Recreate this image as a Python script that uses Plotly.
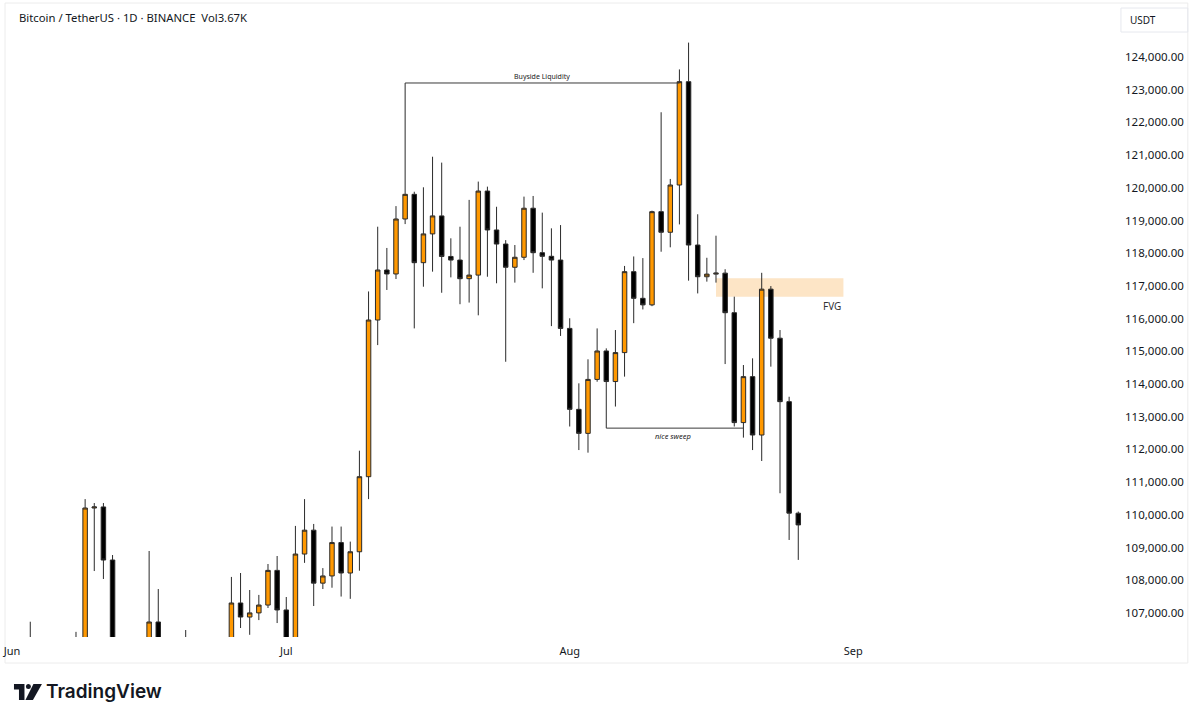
import plotly.graph_objects as go
import pandas as pd

# ---------------- data (BTC/USDT daily) ----------------
start_date = "2025-06-01"
opens = [104600, 105650, 105800, 105400, 104700, 101500, 104300, 105600, 105700, 110208,
         110240, 108617, 105671, 106060, 105420, 105500, 106722, 104550, 104880, 104650,
         103300, 102120, 100960, 105330, 106080, 107303, 106874, 107000, 107240, 108300,
         107090, 105700, 108800, 109530, 107910, 108130, 109150, 108220, 108870, 111165,
         115957, 117486, 117365, 119046, 119800, 117710, 118590, 119140, 117900, 117790,
         117220, 117330, 119900, 118710, 118280, 117570, 117875, 119375, 118015, 117905,
         117790, 115700, 113225, 112490, 114140, 115010, 114075, 114960, 117435, 116620,
         116420, 119270, 118640, 120085, 123245, 118250, 117280, 117360, 117390, 116180,
         112820, 114225, 112440, 116900, 115400, 113460, 110050]
highs = [105900, 105950, 106730, 105950, 105100, 105000, 105900, 106420, 110480, 110360,
         110360, 108770, 106180, 106200, 106130, 108893, 107730, 105550, 105250, 106477,
         103980, 103400, 106000, 106150, 108100, 108220, 107700, 107550, 108495, 108740,
         107486, 109660, 110480, 109720, 108370, 109640, 109640, 109180, 111960, 116830,
         118810, 118160, 119440, 123205, 119880, 120015, 120950, 120770, 118455, 118810,
         119630, 120190, 120035, 119420, 118400, 118250, 119730, 119750, 119240, 118760,
         118860, 116010, 114020, 114755, 115700, 115090, 115650, 117610, 117900, 117850,
         119300, 122310, 120270, 123620, 124440, 119190, 117860, 118535, 117510, 116670,
         114580, 114785, 117400, 116995, 115650, 113610, 110100]
lows = [103900, 103700, 104900, 104200, 100400, 101100, 103900, 105000, 105300, 108280,
        108037, 105600, 102660, 104500, 104900, 104990, 103370, 103500, 103900, 102350,
        101000, 98200, 99600, 104650, 105850, 106538, 106330, 106780, 107150, 106690,
        105250, 105100, 108530, 107210, 107730, 107770, 107500, 107430, 108290, 110480,
        115190, 116875, 117210, 118890, 115700, 116975, 117435, 116790, 117260, 116440,
        116490, 116100, 117280, 117080, 114680, 117100, 117790, 117400, 116925, 115770,
        115470, 112700, 111980, 111900, 114070, 112650, 113310, 114225, 115860, 116280,
        116380, 118045, 118180, 118880, 117160, 116770, 117130, 117100, 114610, 112700,
        112360, 111980, 111645, 114530, 110660, 109230, 108620]
closes = [105650, 105800, 105400, 104700, 101500, 104300, 105600, 105700, 110208, 110240,
          108617, 105671, 106060, 105420, 105500, 106722, 104550, 104880, 104650, 103300,
          102120, 100960, 105330, 106080, 107303, 106874, 107000, 107240, 108300, 107090,
          105700, 108800, 109530, 107910, 108130, 109150, 108220, 108870, 111165, 115957,
          117486, 117365, 119046, 119800, 117710, 118590, 119140, 117900, 117790, 117220,
          117330, 119900, 118710, 118280, 117570, 117875, 119375, 118015, 117905, 117790,
          115700, 113225, 112490, 114140, 115010, 114075, 114960, 117435, 116620, 116420,
          119270, 118640, 120085, 123245, 118250, 117280, 117360, 117390, 116180, 112820,
          114225, 112440, 116900, 115400, 113460, 110050, 109690]
dates = pd.date_range(start_date, periods=len(opens), freq="D")

month_ticks = ["2025-06-01", "2025-07-01", "2025-08-01", "2025-09-01"]
month_labels = ["Jun", "Jul", "Aug", "Sep"]
price_ticks = list(range(107000, 125000, 1000))

# annotation levels
buyside_level = 123205
sweep_level = 112650
fvg_low, fvg_high = 116670, 117235

# ---------------- layout helpers ----------------
W, H = 1200, 722
L, R, T, B = 3, 100, 3, 85
PW, PH = W - L - R, H - T - B


def px(x):
    return (x - L) / PW


def py(y):
    return (H - B - y) / PH


ORANGE = "#FF9800"
DARK = "#131722"

fig = go.Figure()
fig.add_trace(go.Candlestick(
    x=dates, open=opens, high=highs, low=lows, close=closes,
    increasing=dict(fillcolor=ORANGE, line=dict(color="#2a2a2a", width=1)),
    decreasing=dict(fillcolor="#000000", line=dict(color="#2a2a2a", width=1)),
    whiskerwidth=0, showlegend=False, hoverinfo="skip",
))

shapes = []
# FVG zone
shapes.append(dict(type="rect", xref="x", yref="y",
                   x0="2025-08-17 00:00", x1="2025-08-30 22:30",
                   y0=fvg_low, y1=fvg_high, fillcolor="#FDE5C6",
                   line=dict(width=0), layer="below"))
# Buyside liquidity line
shapes.append(dict(type="line", xref="x", yref="y",
                   x0="2025-07-14", x1="2025-08-13", y0=buyside_level, y1=buyside_level,
                   line=dict(color="#3a3a3a", width=1)))
# nice sweep line
shapes.append(dict(type="line", xref="x", yref="y",
                   x0="2025-08-05", x1="2025-08-20", y0=sweep_level, y1=sweep_level,
                   line=dict(color="#3a3a3a", width=1)))
# outer frame
shapes.append(dict(type="rect", xref="paper", yref="paper",
                   x0=px(3), x1=px(1188), y0=py(663), y1=py(3),
                   line=dict(color="#ececec", width=1), layer="below"))
# USDT box
shapes.append(dict(type="rect", xref="paper", yref="paper",
                   x0=px(1121), x1=px(1188), y0=py(32), y1=py(8),
                   line=dict(color="#e6e8ee", width=1)))


# TradingView logo glyph
def poly(points):
    d = "M " + " L ".join(f"{px(a):.5f},{py(b):.5f}" for a, b in points) + " Z"
    return dict(type="path", xref="paper", yref="paper", path=d,
                fillcolor=DARK, line=dict(width=0))


shapes.append(poly([(12, 684), (22.5, 684), (22.5, 700), (17, 700), (17, 689.5), (12, 689.5)]))
shapes.append(poly([(31.5, 684), (40, 684), (31, 700), (23.5, 700)]))
shapes.append(dict(type="circle", xref="paper", yref="paper",
                   x0=px(24), x1=px(29), y0=py(689), y1=py(684),
                   fillcolor=DARK, line=dict(width=0)))

annotations = [
    dict(text="Bitcoin / TetherUS · 1D · BINANCE  Vol3.67K", xref="paper", yref="paper",
         x=px(15), y=py(18), xanchor="left", yanchor="middle", showarrow=False,
         font=dict(family="Noto Sans", size=11.3, color=DARK)),
    dict(text="USDT", xref="paper", yref="paper", x=px(1143.5), y=py(20),
         xanchor="center", yanchor="middle", showarrow=False,
         font=dict(family="Noto Sans", size=10, color=DARK)),
    dict(text="TradingView", xref="paper", yref="paper", x=px(42), y=py(692),
         xanchor="left", yanchor="middle", showarrow=False,
         font=dict(family="Inter", size=19, color=DARK, weight=600)),
    dict(text="Buyside Liquidity", xref="x", yref="y", x="2025-07-29", y=buyside_level,
         yshift=6, xanchor="center", yanchor="middle", showarrow=False,
         font=dict(family="Noto Sans", size=7, color="#222")),
    dict(text="<i>nice sweep</i>", xref="x", yref="y", x="2025-08-12 06:00", y=sweep_level,
         yshift=-8, xanchor="center", yanchor="middle", showarrow=False,
         font=dict(family="Noto Sans", size=7.5, color="#222")),
    dict(text="FVG", xref="paper", yref="paper", x=px(843), y=py(306),
         xanchor="right", yanchor="middle", showarrow=False,
         font=dict(family="Noto Sans", size=10, color="#333")),
]

fig.update_layout(
    width=W, height=H,
    margin=dict(l=L, r=R, t=T, b=B),
    paper_bgcolor="white", plot_bgcolor="white",
    shapes=shapes, annotations=annotations,
    xaxis=dict(
        type="date",
        range=["2025-05-31 05:40", "2025-09-28 00:00"],
        rangeslider=dict(visible=False),
        tickvals=month_ticks, ticktext=month_labels,
        showgrid=False, zeroline=False, showline=False, ticks="",
        tickfont=dict(family="Noto Sans", size=11, color=DARK),
        ticklabelstandoff=6,
        fixedrange=True,
    ),
    yaxis=dict(
        side="right",
        range=[106263, 125651],
        tickvals=price_ticks, tickformat=",.2f",
        showgrid=False, zeroline=False, showline=False, ticks="",
        tickfont=dict(family="Noto Sans", size=11.5, color=DARK),
        ticklabelstandoff=24,
        fixedrange=True,
    ),
)

fig.write_html(
    "out.html",
    config={"displayModeBar": False},
    post_script="document.body.style.margin='0';document.body.style.padding='0';",
)
